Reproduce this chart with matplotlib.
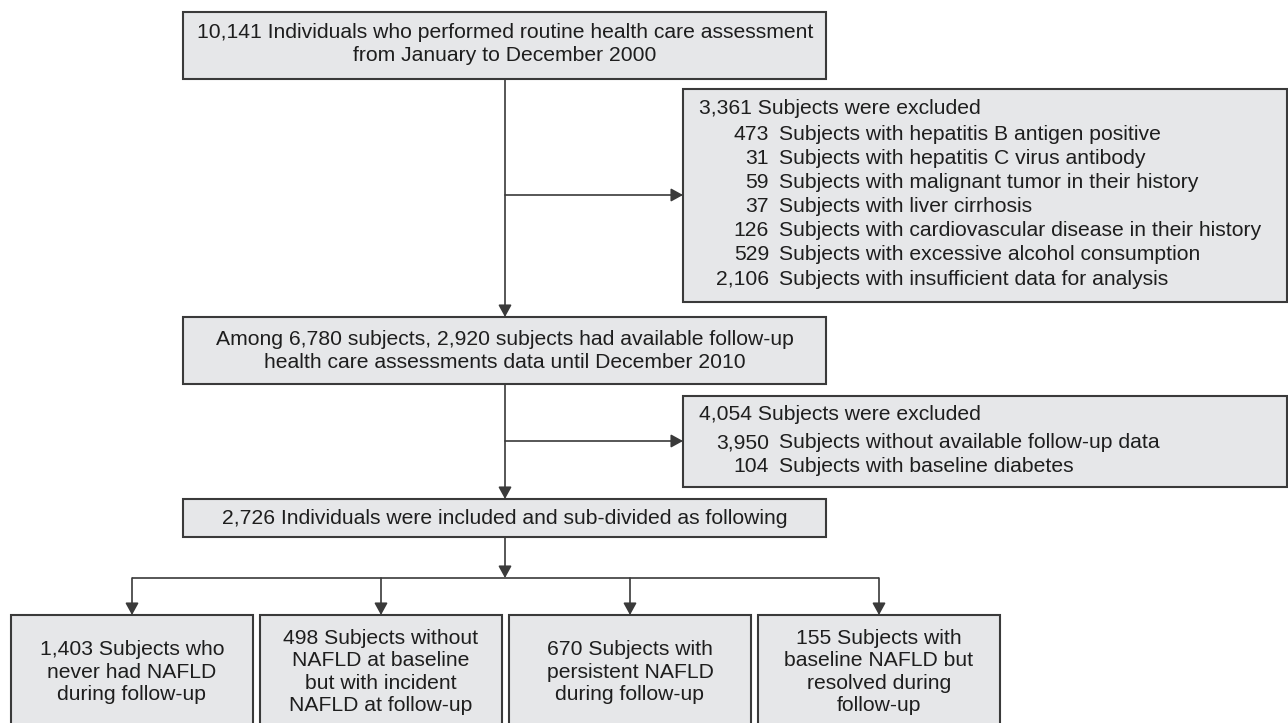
import matplotlib
matplotlib.use("Agg")
import matplotlib.pyplot as plt
from matplotlib.patches import Rectangle, FancyArrowPatch

plt.rcParams['font.family'] = ['Liberation Sans', 'DejaVu Sans']

# flowchart text
top_text = "10,141 Individuals who performed routine health care assessment\nfrom January to December 2000"
excl1_title = "3,361 Subjects were excluded"
excl1_counts = ["473", "31", "59", "37", "126", "529", "2,106"]
excl1_reasons = ["Subjects with hepatitis B antigen positive",
                 "Subjects with hepatitis C virus antibody",
                 "Subjects with malignant tumor in their history",
                 "Subjects with liver cirrhosis",
                 "Subjects with cardiovascular disease in their history",
                 "Subjects with excessive alcohol consumption",
                 "Subjects with insufficient data for analysis"]
mid_text = "Among 6,780 subjects, 2,920 subjects had available follow-up\nhealth care assessments data until December 2010"
excl2_title = "4,054 Subjects were excluded"
excl2_counts = ["3,950", "104"]
excl2_reasons = ["Subjects without available follow-up data",
                 "Subjects with baseline diabetes"]
incl_text = "2,726 Individuals were included and sub-divided as following"
group_texts = ["1,403 Subjects who\nnever had NAFLD\nduring follow-up",
               "498 Subjects without\nNAFLD at baseline\nbut with incident\nNAFLD at follow-up",
               "670 Subjects with\npersistent NAFLD\nduring follow-up",
               "155 Subjects with\nbaseline NAFLD but\nresolved during\nfollow-up"]

FACE = "#e6e7e9"
EDGE = "#3a3a3a"
TXT = "#1e1e1e"
FS = 15.2
LS = 1.22

fig = plt.figure(figsize=(12.88, 7.23), dpi=100)
ax = fig.add_axes([0, 0, 1, 1])
ax.set_xlim(0, 1288)
ax.set_ylim(723, 0)
ax.axis("off")


def box(x0, y0, x1, y1):
    ax.add_patch(Rectangle((x0, y0), x1 - x0, y1 - y0, facecolor=FACE,
                           edgecolor=EDGE, linewidth=1.5, zorder=2))


def line(x0, y0, x1, y1):
    ax.plot([x0, x1], [y0, y1], color=EDGE, lw=1.2, zorder=1,
            solid_capstyle="butt")


def arrow(x0, y0, x1, y1):
    ax.add_patch(FancyArrowPatch((x0, y0), (x1, y1),
                                 arrowstyle="-|>,head_length=0.6,head_width=0.33",
                                 mutation_scale=12, color=EDGE, lw=1.2,
                                 shrinkA=0, shrinkB=0, zorder=3))


cx = 505

# main boxes
box(183, 12, 826, 79)
ax.text(cx, 44, top_text, ha="center", va="center", fontsize=FS,
        linespacing=LS, color=TXT)

box(183, 317, 826, 384)
ax.text(cx, 351, mid_text, ha="center", va="center", fontsize=FS,
        linespacing=LS, color=TXT)

box(183, 499, 826, 537)
ax.text(cx, 518, incl_text, ha="center", va="center", fontsize=FS,
        color=TXT)

# exclusion boxes
box(683, 89, 1287, 302)
ax.text(699, 108, excl1_title, ha="left", va="center", fontsize=FS,
        color=TXT)
for i, (n, r) in enumerate(zip(excl1_counts, excl1_reasons)):
    y = 134 + i * 24.2
    ax.text(769, y, n, ha="right", va="center", fontsize=FS, color=TXT)
    ax.text(779, y, r, ha="left", va="center", fontsize=FS, color=TXT)

box(683, 396, 1287, 487)
ax.text(699, 415, excl2_title, ha="left", va="center", fontsize=FS,
        color=TXT)
for i, (n, r) in enumerate(zip(excl2_counts, excl2_reasons)):
    y = 443 + i * 24
    ax.text(769, y, n, ha="right", va="center", fontsize=FS, color=TXT)
    ax.text(779, y, r, ha="left", va="center", fontsize=FS, color=TXT)

# connectors
arrow(cx, 79, cx, 317)
arrow(cx, 195, 683, 195)
arrow(cx, 384, cx, 499)
arrow(cx, 441, 683, 441)
arrow(cx, 537, cx, 578)

# bottom groups
lefts = [11, 260, 509, 758]
width = 242
centers = [l + width / 2 for l in lefts]
line(centers[0], 578, centers[-1], 578)
for l, c, t in zip(lefts, centers, group_texts):
    box(l, 615, l + width, 740)
    arrow(c, 578, c, 615)
    ax.text(c, 672, t, ha="center", va="center", fontsize=FS,
            linespacing=LS, color=TXT)

fig.savefig("out.png", dpi=100)
